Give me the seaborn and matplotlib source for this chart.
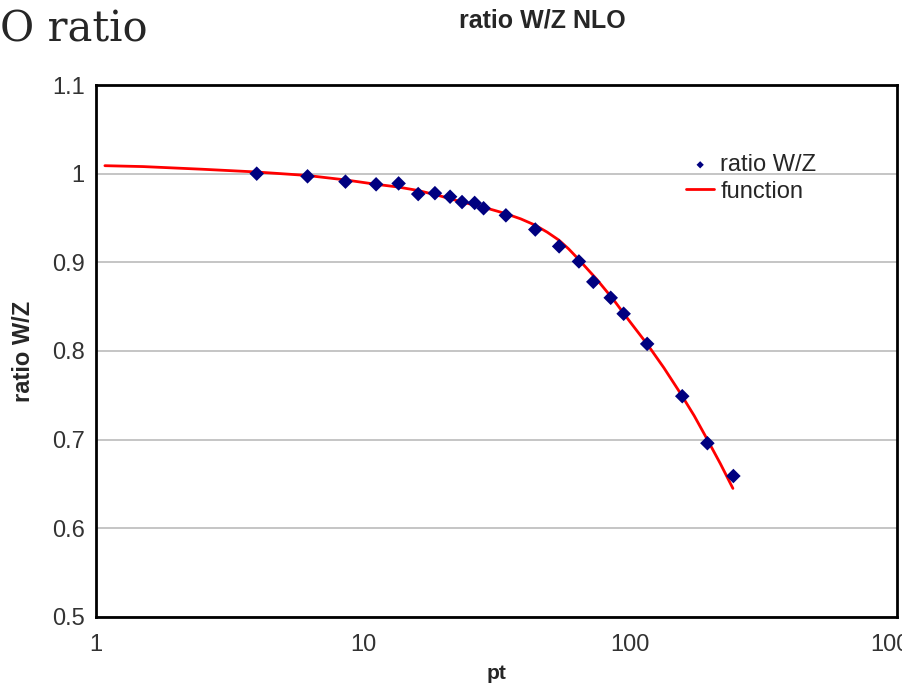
import matplotlib
matplotlib.use('Agg')
import matplotlib.pyplot as plt
import seaborn as sns
import pandas as pd

# measured points (pt, W/Z ratio)
pt = [4.0, 6.2, 8.6, 11.2, 13.6, 16.1, 18.6, 21.2, 23.5, 26.2, 28.3,
      34.3, 44.2, 54.3, 64.4, 72.9, 84.7, 94.7, 116, 157, 195, 244]
ratio = [1.000, 0.997, 0.991, 0.988, 0.989, 0.977, 0.978, 0.974, 0.968, 0.967, 0.961,
         0.953, 0.937, 0.918, 0.901, 0.878, 0.860, 0.842, 0.808, 0.749, 0.696, 0.659]

# fitted function
func_pt = [1.08, 1.5, 2.5, 3.94, 6.17, 8.58, 11.2, 13.5, 16.1, 19.4, 23.5, 28.4,
           34.2, 39, 44.1, 49, 54.2, 59, 64.4, 75, 86.7, 100, 116.5, 134, 154, 174,
           195, 218, 243]
func_val = [1.009, 1.008, 1.005, 1.002, 0.998, 0.993, 0.988, 0.985, 0.981, 0.975, 0.968, 0.962,
            0.955, 0.949, 0.942, 0.934, 0.925, 0.915, 0.903, 0.881, 0.858, 0.833, 0.807,
            0.781, 0.753, 0.727, 0.700, 0.673, 0.645]

yticks = [0.5, 0.6, 0.7, 0.8, 0.9, 1.0, 1.1]
yticklabels = ['0.5', '0.6', '0.7', '0.8', '0.9', '1', '1.1']
xticks = [1, 10, 100, 1000]
xticklabels = ['1', '10', '100', '1000']

df_pts = pd.DataFrame({'pt': pt, 'ratio': ratio})
df_fn = pd.DataFrame({'pt': func_pt, 'ratio': func_val})

sns.set_style('white')
plt.rcParams['font.family'] = ['Liberation Sans', 'DejaVu Sans']

fig = plt.figure(figsize=(9.02, 6.85), dpi=100)
ax = fig.add_axes([0.1064, 0.0993, 0.888, 0.7766])
ax.set_xscale('log')

sns.lineplot(data=df_fn, x='pt', y='ratio', ax=ax, color='#ff0000', linewidth=2,
             label='function', zorder=2)
sns.scatterplot(data=df_pts, x='pt', y='ratio', ax=ax, color='#000080', marker='D',
                s=55, edgecolor='none', label='ratio W/Z', zorder=3)

ax.set_xlim(1, 1000)
ax.set_ylim(0.5, 1.1)
ax.set_yticks(yticks)
ax.set_yticklabels(yticklabels)
ax.set_xticks(xticks)
ax.set_xticklabels(xticklabels)
ax.minorticks_off()
ax.yaxis.grid(True, color='#c0c0c0', linewidth=1.3)
ax.set_axisbelow(True)
for s in ax.spines.values():
    s.set_color('black')
    s.set_linewidth(2)
ax.tick_params(axis='both', direction='out', length=6, width=1.8, color='black',
               labelsize=17, labelcolor='#333333', pad=2)
ax.tick_params(axis='x', pad=6)

ax.set_xlabel('pt', fontsize=15, fontweight='bold', labelpad=6)
ax.set_ylabel('ratio W/Z', fontsize=17, fontweight='bold', labelpad=12)

# legend: marker entry first, then the line
h, l = ax.get_legend_handles_labels()
leg = ax.legend([h[1], h[0]], [l[1], l[0]], loc='upper left',
                bbox_to_anchor=(686 / 902, 1 - 154 / 685), bbox_transform=fig.transFigure,
                frameon=False, fontsize=17, handlelength=1.2, handletextpad=0.25,
                labelspacing=0.2, markerscale=0.5, borderaxespad=0, borderpad=0)

fig.text(542 / 902, 1 - 21 / 685, 'ratio W/Z NLO', ha='center', va='center',
         fontsize=18, fontweight='bold')
fig.text(0.0, 1 - 42 / 685, 'O ratio', ha='left', va='baseline',
         fontsize=30, family='DejaVu Serif')

fig.savefig('out.png', dpi=100)
